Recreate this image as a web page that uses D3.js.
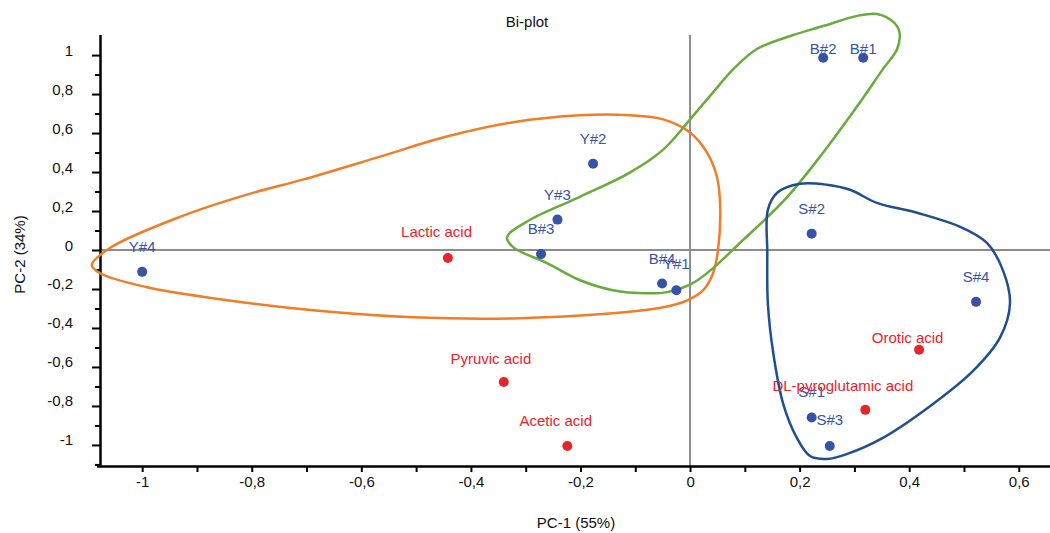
<!DOCTYPE html>
<html>
<head>
<meta charset="utf-8">
<script src="https://cdn.jsdelivr.net/npm/d3@7"></script>
<style>
  html, body { margin: 0; padding: 0; background: #fff; }
  svg { display: block; font-family: "Liberation Sans", Arial, sans-serif; }
</style>
</head>
<body>
<svg id="chart" width="1050" height="533"></svg>
<script>
// ---------- data ----------
const sampleNames = ["Y#4", "B#3", "Y#3", "Y#2", "B#4", "Y#1", "B#2", "B#1", "S#2", "S#4", "S#1", "S#3"];
const samplePC1   = [-1.000, -0.272, -0.242, -0.177, -0.051, -0.025, 0.243, 0.316, 0.222, 0.522, 0.222, 0.255];
const samplePC2   = [-0.112, -0.021, 0.156, 0.443, -0.172, -0.206, 0.986, 0.986, 0.084, -0.266, -0.859, -1.005];
const sampleLabelGap = [20, 20, 20, 20, 20, 21, 4, 4, 20, 20, 20, 21];

const acidNames = ["Lactic acid", "Pyruvic acid", "Acetic acid", "Orotic acid", "DL-pyroglutamic acid"];
const acidPC1   = [-0.442, -0.340, -0.224, 0.418, 0.320];
const acidPC2   = [-0.041, -0.677, -1.005, -0.512, -0.820];
const acidLabelGap = [21, 18, 20, 7, 19];

const xTicksMajor = [-1, -0.8, -0.6, -0.4, -0.2, 0, 0.2, 0.4, 0.6];
const xTicksMinor = [-0.9, -0.7, -0.5, -0.3, -0.1, 0.1, 0.3, 0.5];
const yTicksMajor = [-1, -0.8, -0.6, -0.4, -0.2, 0, 0.2, 0.4, 0.6, 0.8, 1];
const yTicksMinor = [-1.1, -0.9, -0.7, -0.5, -0.3, -0.1, 0.1, 0.3, 0.5, 0.7, 0.9];

// group outlines (PC-1, PC-2)
const outlineY = [[-1.092,-0.077],[-1.059,0.010],[-0.931,0.170],[-0.809,0.284],[-0.707,0.361],[-0.566,0.479],[-0.444,0.582],[-0.323,0.655],[-0.201,0.691],[-0.110,0.691],[-0.049,0.670],[0.000,0.603],[0.031,0.500],[0.049,0.376],[0.055,0.222],[0.051,0.000],[0.042,-0.119],[0.024,-0.206],[-0.005,-0.258],[-0.049,-0.294],[-0.141,-0.325],[-0.323,-0.351],[-0.506,-0.345],[-0.688,-0.309],[-0.871,-0.247],[-0.991,-0.191],[-1.077,-0.119]];
const outlineB = [[-0.334,0.067],[-0.292,0.155],[-0.201,0.273],[-0.110,0.397],[-0.049,0.515],[0.000,0.670],[0.042,0.809],[0.079,0.928],[0.122,1.031],[0.183,1.098],[0.243,1.149],[0.305,1.201],[0.341,1.211],[0.371,1.170],[0.382,1.119],[0.378,1.031],[0.352,0.928],[0.305,0.737],[0.243,0.500],[0.173,0.258],[0.091,0.036],[0.042,-0.093],[0.005,-0.170],[-0.042,-0.216],[-0.079,-0.222],[-0.141,-0.206],[-0.201,-0.155],[-0.261,-0.067],[-0.323,0.015]];
const outlineS = [[0.201,0.340],[0.159,0.294],[0.142,0.206],[0.141,-0.015],[0.142,-0.273],[0.152,-0.531],[0.170,-0.789],[0.195,-0.964],[0.219,-1.057],[0.250,-1.072],[0.287,-1.046],[0.352,-0.964],[0.444,-0.789],[0.517,-0.619],[0.566,-0.448],[0.584,-0.273],[0.571,-0.103],[0.542,0.036],[0.493,0.119],[0.414,0.191],[0.341,0.242],[0.292,0.309],[0.250,0.335]];

const xDomain = [-1.077, 0.657];
const yDomain = [-1.108, 1.103];

// ---------- layout ----------
const svg = d3.select("#chart");
const mLeft = 100, mRight = 1050, mTop = 35, mBottom = 466;
const x = d3.scaleLinear().domain(xDomain).range([mLeft, mRight]);
const y = d3.scaleLinear().domain(yDomain).range([mBottom, mTop]);

const blue = "#3752a6", red = "#e8242a";
const fmt = v => String(Math.round(v * 10) / 10).replace(".", ",");

// title
svg.append("text").attr("x", 527).attr("y", 27).attr("text-anchor", "middle")
  .attr("font-size", 15).attr("fill", "#111").text("Bi-plot");

// zero lines
svg.append("line").attr("x1", mLeft).attr("x2", mRight).attr("y1", y(0)).attr("y2", y(0))
  .attr("stroke", "#8c8c8c").attr("stroke-width", 2);
svg.append("line").attr("x1", x(0)).attr("x2", x(0)).attr("y1", mTop).attr("y2", mBottom)
  .attr("stroke", "#8c8c8c").attr("stroke-width", 2);

// axes
const gx = svg.append("g").attr("transform", `translate(0,${mBottom})`);
gx.call(d3.axisBottom(x).tickValues(xTicksMinor).tickSize(6).tickFormat(""));
gx.call(g => g.select(".domain").remove());
const gx2 = svg.append("g").attr("transform", `translate(0,${mBottom})`);
gx2.call(d3.axisBottom(x).tickValues(xTicksMajor).tickSize(6).tickFormat(fmt));
gx2.select(".domain").attr("d", `M${mLeft - 3},0.5H${mRight}`);
gx2.selectAll("text").attr("y", 21).attr("dy", 0);

const gy = svg.append("g").attr("transform", `translate(${mLeft},0)`);
gy.call(d3.axisLeft(y).tickValues(yTicksMinor).tickSize(5).tickFormat(""));
gy.call(g => g.select(".domain").remove());
const gy2 = svg.append("g").attr("transform", `translate(${mLeft},0)`);
gy2.call(d3.axisLeft(y).tickValues(yTicksMajor).tickSize(8).tickFormat(fmt).tickPadding(19));
gy2.select(".domain").attr("d", `M0.5,${mTop}V${mBottom + 1}`);
gy2.selectAll("text").attr("dy", 0);

svg.selectAll(".tick line").attr("stroke", "#000").attr("stroke-width", 2);
svg.selectAll(".domain").attr("stroke", "#000").attr("stroke-width", 2.5);
svg.selectAll(".tick text").attr("font-size", 15).attr("fill", "#111")
  .attr("font-family", "Liberation Sans, Arial, sans-serif");

// axis titles
svg.append("text").attr("x", 576).attr("y", 528).attr("text-anchor", "middle")
  .attr("font-size", 15).attr("fill", "#111").text("PC-1 (55%)");
svg.append("text").attr("transform", `translate(25,${(mTop + mBottom) / 2 + 4}) rotate(-90)`)
  .attr("text-anchor", "middle").attr("font-size", 15).attr("fill", "#111").text("PC-2 (34%)");

// outlines
const line = d3.line().x(d => x(d[0])).y(d => y(d[1])).curve(d3.curveCatmullRomClosed.alpha(0.5));
[[outlineY, "#f07d28"], [outlineB, "#6aab3d"], [outlineS, "#1f4e91"]].forEach(([pts, col]) => {
  svg.append("path").attr("d", line(pts)).attr("fill", "none").attr("stroke", col).attr("stroke-width", 2.5);
});

// sample points
const samples = sampleNames.map((n, i) => ({ n, px: samplePC1[i], py: samplePC2[i], gap: sampleLabelGap[i] }));
const acids = acidNames.map((n, i) => ({ n, px: acidPC1[i], py: acidPC2[i], gap: acidLabelGap[i] }));

svg.append("g").selectAll("circle").data(samples).join("circle")
  .attr("cx", d => x(d.px)).attr("cy", d => y(d.py)).attr("r", 5).attr("fill", blue);
svg.append("g").selectAll("circle").data(acids).join("circle")
  .attr("cx", d => x(d.px)).attr("cy", d => y(d.py)).attr("r", 5).attr("fill", red);

svg.append("g").selectAll("text").data(samples).join("text")
  .attr("x", d => x(d.px)).attr("y", d => y(d.py) - d.gap).attr("text-anchor", "middle")
  .attr("font-size", 15).attr("fill", blue).text(d => d.n);

const acidText = svg.append("g").selectAll("text").data(acids).join("text")
  .attr("y", d => y(d.py) - d.gap).attr("text-anchor", "start")
  .attr("font-size", 15).attr("fill", red).text(d => d.n);
acidText.attr("x", function (d) { return x(d.px) - 0.66 * this.getComputedTextLength(); });
</script>
</body>
</html>
